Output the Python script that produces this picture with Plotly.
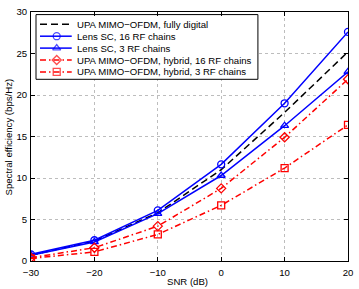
import plotly.graph_objects as go

snr = [-30, -20, -10, 0, 10, 20]
fully_digital = [0.7, 2.4, 5.8, 11.0, 17.9, 25.2]
lens_16 = [0.8, 2.5, 6.1, 11.65, 19.0, 27.6]
lens_3 = [0.7, 2.3, 5.7, 10.3, 16.3, 22.8]
hybrid_16 = [0.4, 1.6, 4.2, 8.75, 14.9, 21.9]
hybrid_3 = [0.3, 1.1, 3.2, 6.7, 11.2, 16.4]
x_ticks = [-30, -20, -10, 0, 10, 20]
x_tick_labels = ["\u221230", "\u221220", "\u221210", "0", "10", "20"]
y_ticks = [0, 5, 10, 15, 20, 25, 30]

names = [
    "UPA MIMO\u2212OFDM, fully digital",
    "Lens SC, 16 RF chains",
    "Lens SC, 3 RF chains",
    "UPA MIMO\u2212OFDM, hybrid, 16 RF chains",
    "UPA MIMO\u2212OFDM, hybrid, 3 RF chains",
]

FS = 9.6
DASH = "7px,4px"
DASHDOT = "6px,3px,1.5px,3px"
styles = [
    (fully_digital, "black", DASH, None),
    (lens_16, "blue", "solid", "circle-open"),
    (lens_3, "blue", "solid", "triangle-up-open"),
    (hybrid_16, "red", DASHDOT, "diamond-open"),
    (hybrid_3, "red", DASHDOT, "square-open"),
]

fig = go.Figure()
for (ys, col, dash, sym), nm in zip(styles, names):
    fig.add_trace(go.Scatter(
        x=snr, y=ys, name=nm, showlegend=False,
        mode="lines" if sym is None else "lines+markers",
        line=dict(color=col, width=1.5, dash=dash),
        marker=dict(symbol=sym, size=7, color=col, line=dict(color=col, width=1.3)) if sym else None,
    ))

# ---- legend drawn on an overlay (paper-like) axis ----
bx0, bx1, by0, by1 = 0.0158, 0.7158, 0.7297, 0.9896
fig.add_trace(go.Scatter(
    x=[bx0, bx1, bx1, bx0, bx0], y=[by0, by0, by1, by1, by0],
    xaxis="x2", yaxis="y2", mode="lines", fill="toself", fillcolor="white",
    line=dict(color="black", width=1), showlegend=False, hoverinfo="skip"))
row_y = [0.9506, 0.9028, 0.855, 0.8072, 0.7594]
lx0, lxm, lx1, tx = 0.0284, 0.0811, 0.1285, 0.139
for (ys, col, dash, sym), nm, ry in zip(styles, names, row_y):
    fig.add_trace(go.Scatter(
        x=[lx0, lxm, lx1], y=[ry, ry, ry], xaxis="x2", yaxis="y2",
        mode="lines" if sym is None else "lines+markers",
        line=dict(color=col, width=1.5, dash=dash),
        marker=dict(symbol=sym, size=[0, 7, 0], color=col, line=dict(color=col, width=1.3)) if sym else None,
        showlegend=False, hoverinfo="skip"))
    fig.add_annotation(x=tx, y=ry, xref="x2", yref="y2", text=nm, showarrow=False,
                       xanchor="left", yanchor="middle", font=dict(size=FS, color="black"))

# axis titles
fig.add_annotation(x=0.494, y=-0.0815, xref="paper", yref="paper", text="SNR (dB)",
                   showarrow=False, xanchor="center", yanchor="middle",
                   font=dict(size=FS, color="black"))
fig.add_annotation(x=-0.0695, y=0.5, xref="paper", yref="paper",
                   text="Spectral efficiency (bps/Hz)", textangle=-90,
                   showarrow=False, xanchor="center", yanchor="middle",
                   font=dict(size=FS, color="black"))

axis_common = dict(
    showline=True, linecolor="black", linewidth=1, mirror="ticks",
    ticks="inside", ticklen=4, tickcolor="black", automargin=False,
    showgrid=True, gridcolor="#bdbdbd", griddash="dot", gridwidth=1,
    zeroline=False, tickfont=dict(size=FS, color="black"),
)
fig.update_layout(
    xaxis=dict(range=[-30, 20], tickvals=x_ticks, ticktext=x_tick_labels,
               ticklabelstandoff=2, **axis_common),
    yaxis=dict(range=[0, 30], tickvals=y_ticks, ticklabelstandoff=1, **axis_common),
    xaxis2=dict(overlaying="x", range=[0, 1], visible=False, fixedrange=True),
    yaxis2=dict(overlaying="y", range=[0, 1], visible=False, fixedrange=True),
    width=359, height=289,
    margin=dict(l=31, r=11, t=12, b=28),
    paper_bgcolor="white", plot_bgcolor="white",
    font=dict(family="Liberation Sans, Arial, sans-serif", color="black"),
    showlegend=False,
)
fig.write_html("out.html", config={"displayModeBar": False},
               post_script="document.body.style.margin='0';")
